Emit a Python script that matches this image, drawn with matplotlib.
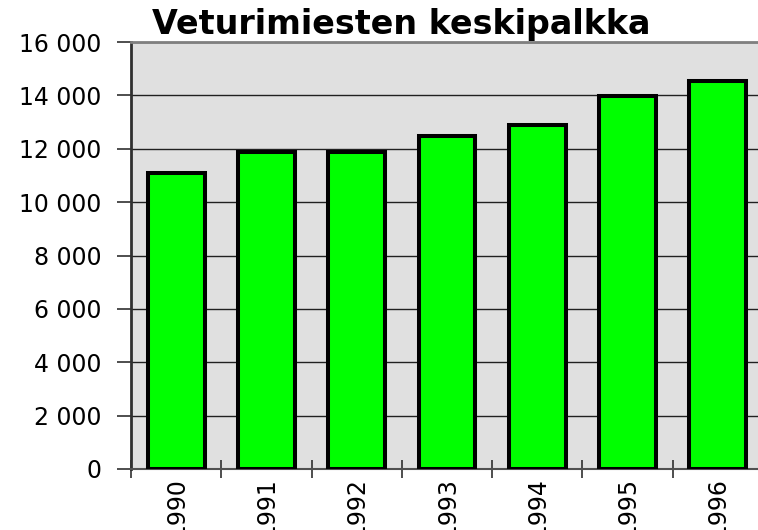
import matplotlib
matplotlib.use("Agg")
import matplotlib.pyplot as plt
from matplotlib.ticker import FixedLocator, FuncFormatter

plt.rcParams['font.family'] = ['DejaVu Sans']

vuodet = ["1990", "1991", "1992", "1993", "1994", "1995", "1996"]
palkka = [11100, 11880, 11880, 12480, 12900, 13960, 14520]
y_ticks = [0, 2000, 4000, 6000, 8000, 10000, 12000, 14000, 16000]

fig = plt.figure(figsize=(7.58, 5.30), dpi=100)
ax = fig.add_axes([131/758, 61/530, 632/758, 427/530])
ax.set_facecolor("#E0E0E0")

x = list(range(len(vuodet)))
ax.bar(x, palkka, width=0.63, color="#00FF00", edgecolor="black",
       linewidth=2.9, zorder=3)

ax.set_xlim(-0.5, len(vuodet) - 0.5)
ax.set_ylim(0, 16000)

ax.yaxis.set_major_locator(FixedLocator(y_ticks))
ax.yaxis.set_major_formatter(FuncFormatter(lambda v, p: f"{v:,.0f}".replace(",", " ")))
ax.grid(axis="y", color="#202020", linewidth=1.0, zorder=1)
ax.set_axisbelow(True)

ax.set_xticks(x)
ax.set_xticklabels(vuodet, rotation=90, fontsize=17, va="top")
ax.set_xticks([i - 0.5 for i in range(len(vuodet) + 1)], minor=True)
ax.tick_params(axis="x", which="major", length=0, pad=6)
ax.tick_params(axis="x", which="minor", direction="inout", length=13, width=1.2, color="#303030")
ax.tick_params(axis="y", direction="out", length=10, width=1.2, color="#303030",
               labelsize=17, pad=11)

for s in ["top", "right"]:
    ax.spines[s].set_color("#808080")
    ax.spines[s].set_linewidth(2)
ax.spines["left"].set_color("#303030")
ax.spines["left"].set_linewidth(2)
ax.spines["bottom"].set_color("#505050")
ax.spines["bottom"].set_linewidth(1.5)

fig.text(401/758, (530-34)/530, "Veturimiesten keskipalkka", ha="center",
         va="baseline", fontsize=24, fontweight="bold")

fig.savefig("out.png", dpi=100)
